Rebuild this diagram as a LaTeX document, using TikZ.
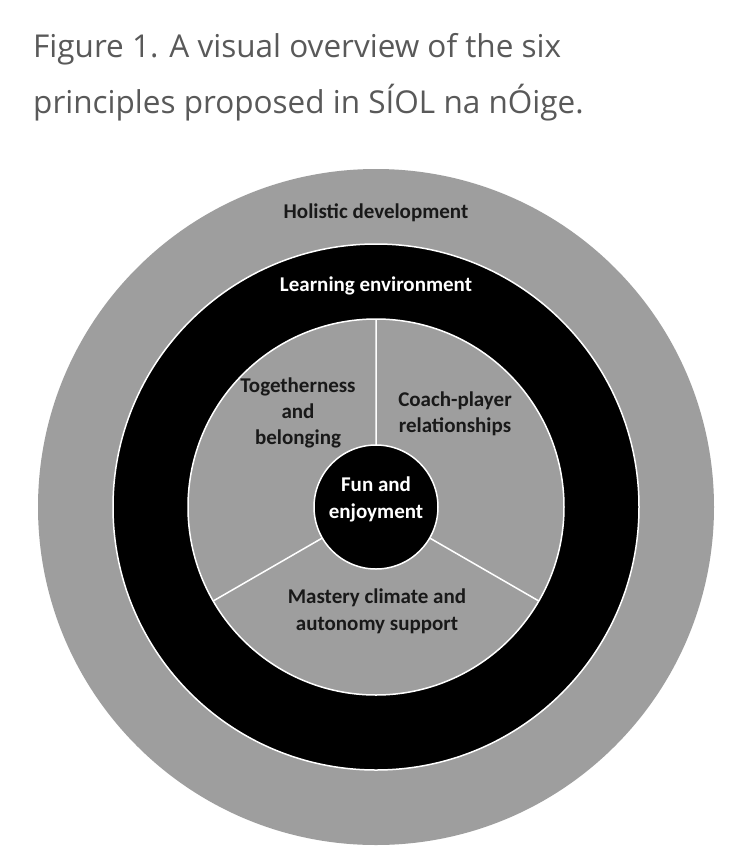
\documentclass[tikz,border=0pt]{standalone}
\usepackage{fontspec}
\setmainfont{Carlito}
\newfontfamily\titlefont{Open Sans}
\begin{document}
\begin{tikzpicture}[x=1pt,y=-1pt,
  lbl/.style={font=\bfseries\fontsize{21}{25}\selectfont, align=center, text=black!90},
  wlbl/.style={lbl, text=white},
  ttl/.style={font=\titlefont\fontsize{31.5}{48}\selectfont, text=black!65, anchor=base west, inner sep=0pt}]
\useasboundingbox (0,0) rectangle (750,855);
\fill[white] (0,0) rectangle (750,855);
\node[ttl] (t1) at (33,57) {Figure 1. A visual overview of the six};
\node[ttl] (t2) at (33,113) {principles proposed in SÍOL na nÓige.};
\coordinate (c) at (376,507);
\fill[black!38] (c) circle (338);
\draw[white, line width=1.5pt, fill=black] (c) circle (263);
\draw[white, line width=1.5pt, fill=black!38] (c) circle (188);
\draw[white, line width=1.5pt] (c) -- ++(-90:188) (c) -- ++(30:188) (c) -- ++(150:188);
\draw[white, line width=1.5pt, fill=black] (c) circle (62);
\node[lbl] (hol) at (376,213) {Holistic development};
\node[wlbl] (le) at (376,286) {Learning environment};
\node[lbl, font=\bfseries\fontsize{21}{26}\selectfont] (tog) at (298,413) {Togetherness\\and\\belonging};
\node[lbl, font=\bfseries\fontsize{21}{26}\selectfont] (cp) at (455,414) {Coach-player\\relationships};
\node[wlbl, font=\bfseries\fontsize{21}{27}\selectfont] (fun) at (376,499) {Fun and\\enjoyment};
\node[lbl, font=\bfseries\fontsize{21}{27}\selectfont] (mas) at (377,611) {Mastery climate and\\autonomy support};
\end{tikzpicture}
\end{document}
